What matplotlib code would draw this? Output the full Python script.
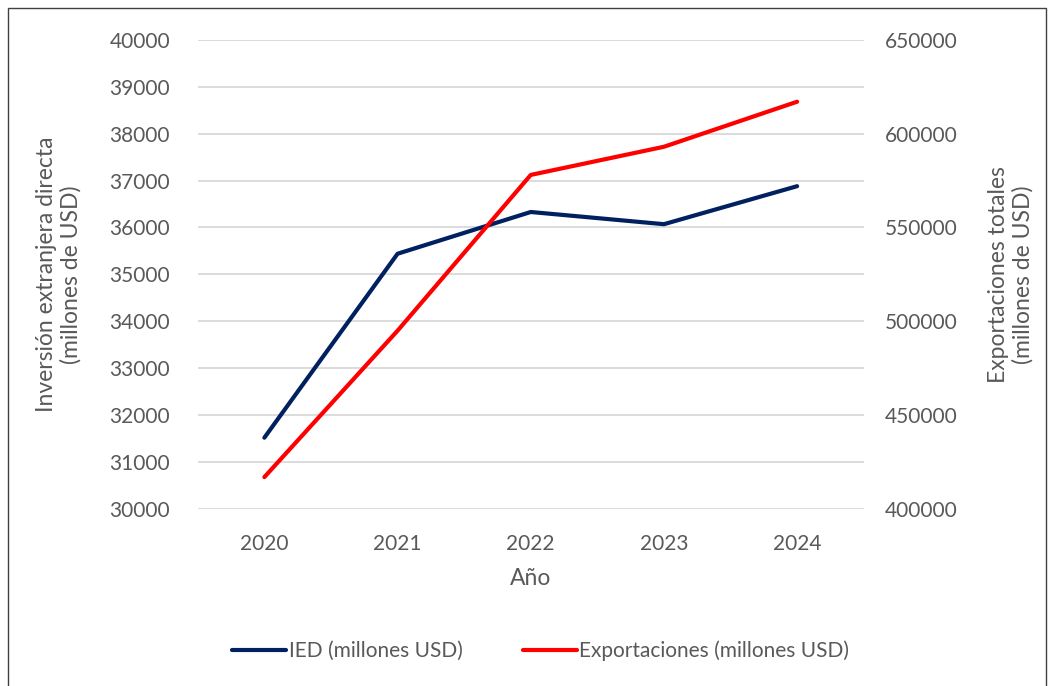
#!/usr/bin/env python
"""
IED vs exportaciones totales, 2020-2024 (dos ejes)
"""

import matplotlib.pyplot as plt
from matplotlib.patches import Rectangle

# datos
years = ["2020", "2021", "2022", "2023", "2024"]
ied = [31520, 35440, 36330, 36070, 36880]
exportaciones = [417000, 495000, 578000, 593000, 617000]

GRAY = "#595959"
NAVY = "#002060"
RED = "#FF0000"

plt.rcParams['font.family'] = ['Lato', 'DejaVu Sans']

fig = plt.figure(figsize=(10.52, 6.86), dpi=100)
ax = fig.add_axes([0.188, 0.258, 0.633, 0.684])
ax2 = ax.twinx()

x = range(len(years))
l1, = ax.plot(x, ied, color=NAVY, lw=3, solid_capstyle='round',
              label="IED (millones USD)")
l2, = ax2.plot(x, exportaciones, color=RED, lw=3, solid_capstyle='round',
               label="Exportaciones (millones USD)")

ax.set_xlim(-0.5, 4.5)
ax.set_ylim(30000, 40000)
ax.set_yticks(range(30000, 40001, 1000))
ax2.set_ylim(400000, 650000)
ax2.set_yticks(range(400000, 650001, 50000))
ax.set_xticks(list(x))
ax.set_xticklabels(years)

ax.grid(axis='y', color="#D9D9D9", lw=1.3)
ax.set_axisbelow(True)
for a in (ax, ax2):
    for s in a.spines.values():
        s.set_visible(False)
    a.tick_params(length=0, labelsize=15, colors=GRAY)
ax.tick_params(axis='y', pad=20)
ax.tick_params(axis='x', pad=18)
ax2.tick_params(axis='y', pad=15)

ax.set_xlabel("Año", fontsize=16.5, color=GRAY, labelpad=10)
ax.set_ylabel("Inversión extranjera directa\n(millones de USD)", fontsize=16.5,
              color=GRAY, labelpad=20)
ax2.set_ylabel("Exportaciones totales\n(millones de USD)", fontsize=16.5,
               color=GRAY, labelpad=22)

fig.legend(handles=[l1, l2], loc='center', bbox_to_anchor=(0.514, 0.051),
           ncol=2, frameon=False, fontsize=15, labelcolor=GRAY,
           handlelength=2.6, handletextpad=0.1, columnspacing=2.9)

# marco exterior
fig.patches.append(Rectangle((0.008, -0.01), 0.986, 0.998, transform=fig.transFigure,
                             fill=False, edgecolor="#404040", lw=1))

fig.savefig("out.png", dpi=100)
